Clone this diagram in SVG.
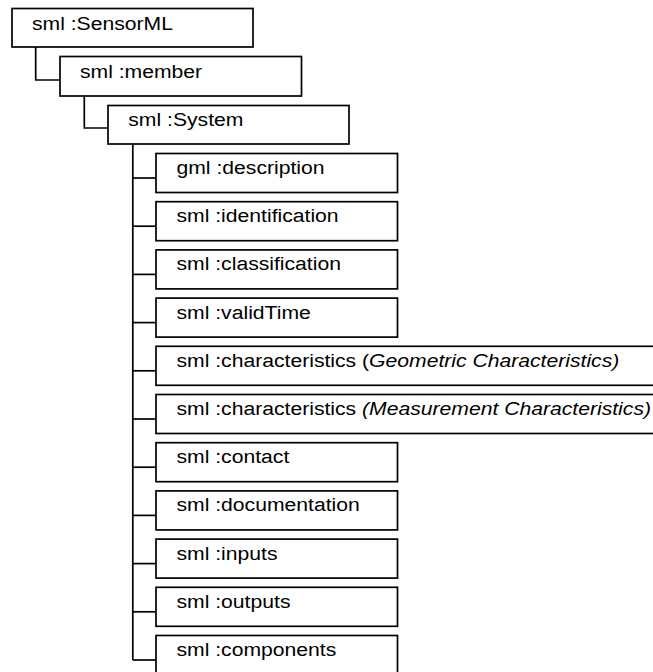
<svg xmlns="http://www.w3.org/2000/svg" width="653" height="672" viewBox="0 0 653 672">
  <style>
    .box { fill: #ffffff; stroke: #000000; stroke-width: 1.7; }
    .conn { fill: none; stroke: #000000; stroke-width: 1.7; }
    .lbl { font-family: "Liberation Sans", Arial, sans-serif; font-size: 18px; fill: #000000; }
    .it { font-style: italic; }
  </style>
  <rect width="653" height="672" fill="#ffffff"/>

  <!-- tree connectors -->
  <g id="connectors">
    <path class="conn" d="M35.7,47 V80 H60"/>
    <path class="conn" d="M84.3,96 V128 H108"/>
    <path class="conn" d="M132.8,144 V660"/>
    <path class="conn" d="M132.8,178 H156"/>
    <path class="conn" d="M132.8,226.2 H156"/>
    <path class="conn" d="M132.8,274.4 H156"/>
    <path class="conn" d="M132.8,322.6 H156"/>
    <path class="conn" d="M132.8,370.8 H156"/>
    <path class="conn" d="M132.8,419 H156"/>
    <path class="conn" d="M132.8,467.2 H156"/>
    <path class="conn" d="M132.8,515.4 H156"/>
    <path class="conn" d="M132.8,563.6 H156"/>
    <path class="conn" d="M132.8,611.8 H156"/>
    <path class="conn" d="M132.8,660 H156"/>
  </g>

  <g id="sensorml">
    <rect class="box" x="12" y="8.5" width="241" height="38.5"/>
    <text class="lbl" transform="translate(32,29.5) scale(1.175,1)">sml :SensorML</text>
  </g>
  <g id="member">
    <rect class="box" x="60" y="56.5" width="241.5" height="39.5"/>
    <text class="lbl" transform="translate(80,77.5) scale(1.175,1)">sml :member</text>
  </g>
  <g id="system">
    <rect class="box" x="108" y="105.5" width="241" height="38.5"/>
    <text class="lbl" transform="translate(128.3,126) scale(1.175,1)">sml :System</text>
  </g>

  <g id="description">
    <rect class="box" x="156" y="153.5" width="241.5" height="39"/>
    <text class="lbl" transform="translate(176.5,174) scale(1.175,1)">gml :description</text>
  </g>
  <g id="identification">
    <rect class="box" x="156" y="201.7" width="241.5" height="39"/>
    <text class="lbl" transform="translate(176.5,222.2) scale(1.175,1)">sml :identification</text>
  </g>
  <g id="classification">
    <rect class="box" x="156" y="249.9" width="241.5" height="39"/>
    <text class="lbl" transform="translate(176.5,270.4) scale(1.175,1)">sml :classification</text>
  </g>
  <g id="validTime">
    <rect class="box" x="156" y="298.1" width="241.5" height="39"/>
    <text class="lbl" transform="translate(176.5,318.6) scale(1.175,1)">sml :validTime</text>
  </g>
  <g id="geometric-characteristics">
    <rect class="box" x="156" y="346.3" width="520" height="39"/>
    <text class="lbl" transform="translate(176.5,366.8) scale(1.175,1)">sml :characteristics (<tspan class="it">Geometric Characteristics)</tspan></text>
  </g>
  <g id="measurement-characteristics">
    <rect class="box" x="156" y="394.5" width="520" height="39"/>
    <text class="lbl" transform="translate(176.5,415) scale(1.175,1)">sml :characteristics <tspan class="it">(Measurement Characteristics)</tspan></text>
  </g>
  <g id="contact">
    <rect class="box" x="156" y="442.7" width="241.5" height="39"/>
    <text class="lbl" transform="translate(176.5,463.2) scale(1.175,1)">sml :contact</text>
  </g>
  <g id="documentation">
    <rect class="box" x="156" y="490.9" width="241.5" height="39"/>
    <text class="lbl" transform="translate(176.5,511.4) scale(1.175,1)">sml :documentation</text>
  </g>
  <g id="inputs">
    <rect class="box" x="156" y="539.1" width="241.5" height="39"/>
    <text class="lbl" transform="translate(176.5,559.6) scale(1.175,1)">sml :inputs</text>
  </g>
  <g id="outputs">
    <rect class="box" x="156" y="587.3" width="241.5" height="39"/>
    <text class="lbl" transform="translate(176.5,607.8) scale(1.175,1)">sml :outputs</text>
  </g>
  <g id="components">
    <rect class="box" x="156" y="635.5" width="241.5" height="39"/>
    <text class="lbl" transform="translate(176.5,656) scale(1.175,1)">sml :components</text>
  </g>
</svg>
